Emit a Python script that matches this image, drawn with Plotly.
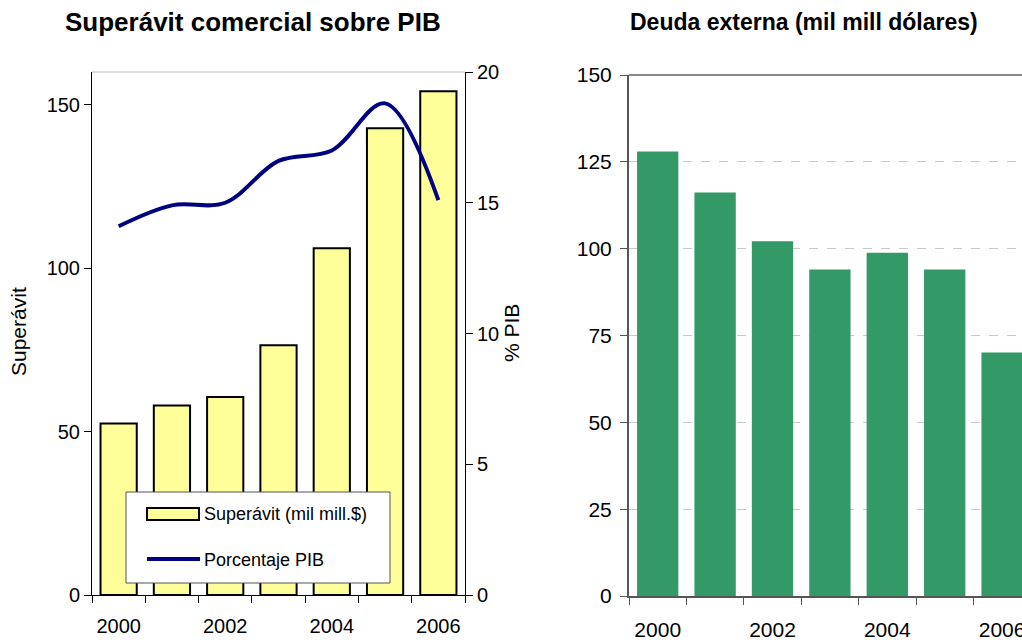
import plotly.graph_objects as go

years = [2000, 2001, 2002, 2003, 2004, 2005, 2006]
superavit = [52.5, 58.0, 60.6, 76.4, 106.1, 142.8, 154.1]
pct_pib = [14.1, 14.9, 15.0, 16.6, 17.0, 18.8, 15.1]
deuda = [128.0, 116.2, 102.1, 94.0, 98.8, 94.0, 70.1]
year_ticks = [2000, 2002, 2004, 2006]
year_labels = ["2000", "2002", "2004", "2006"]
boundaries = [y - 0.5 for y in years] + [years[-1] + 0.5]

W, H = 1022, 644
FONT = "Arial, Liberation Sans, sans-serif"


def px(x):
    return x / W


def py(y):
    return 1 - y / H


fig = go.Figure()

fig.add_trace(go.Bar(
    x=years, y=superavit, width=0.68,
    marker=dict(color="#FFFF99", line=dict(color="black", width=2)),
    xaxis="x", yaxis="y", showlegend=False,
))

fig.add_trace(go.Scatter(
    x=years, y=pct_pib, mode="lines",
    line=dict(color="#000080", width=4, shape="spline", smoothing=1),
    xaxis="x", yaxis="y2", showlegend=False,
))

fig.add_trace(go.Bar(
    x=years, y=deuda, width=0.72,
    marker=dict(color="#339966", line=dict(width=0)),
    xaxis="x2", yaxis="y3", showlegend=False,
))

fig.update_layout(
    width=W, height=H,
    margin=dict(l=0, r=0, t=0, b=0, pad=0),
    paper_bgcolor="white", plot_bgcolor="white",
    font=dict(family=FONT, color="black", size=20),
    xaxis=dict(
        domain=[px(92), px(465)], anchor="y", automargin=False,
        range=[1999.5, 2006.5],
        tickvals=year_ticks, ticktext=year_labels,
        ticks="", ticklabelstandoff=13, ticklabeloverflow="allow",
        tickfont=dict(size=20),
        minor=dict(tickvals=boundaries, ticks="outside", ticklen=7,
                   tickcolor="black", showgrid=False),
        showline=True, linecolor="black", linewidth=1,
        showgrid=False, zeroline=False,
    ),
    yaxis=dict(
        domain=[py(595), py(72)], anchor="x", automargin=False,
        range=[0, 160], tickvals=[0, 50, 100, 150],
        ticks="outside", ticklen=7, tickcolor="black",
        tickfont=dict(size=20),
        showline=True, linecolor="black", linewidth=1,
        showgrid=False, zeroline=False,
    ),
    yaxis2=dict(
        overlaying="y", side="right", anchor="x", automargin=False,
        range=[0, 20], tickvals=[0, 5, 10, 15, 20],
        ticks="outside", ticklen=7, tickcolor="black",
        tickfont=dict(size=20),
        showline=True, linecolor="black", linewidth=1,
        showgrid=False, zeroline=False,
    ),
    xaxis2=dict(
        domain=[px(629), 1.0], anchor="y3", automargin=False,
        range=[1999.5, 1999.5 + (W - 629) / 57.4],
        tickvals=year_ticks, ticktext=year_labels,
        ticks="", ticklabelstandoff=14, ticklabeloverflow="allow",
        tickfont=dict(size=21),
        minor=dict(tickvals=boundaries, ticks="outside", ticklen=7,
                   tickcolor="#555555", showgrid=False),
        showline=True, linecolor="#555555", linewidth=2,
        showgrid=False, zeroline=False,
    ),
    yaxis3=dict(
        domain=[py(596), py(75)], anchor="x2", automargin=False,
        range=[0, 150], tickvals=[0, 25, 50, 75, 100, 125, 150],
        ticks="outside", ticklen=7, tickcolor="#555555",
        tickfont=dict(size=21), ticklabelstandoff=4,
        showline=True, linecolor="#555555", linewidth=2,
        showgrid=True, gridcolor="#C8C8C8", griddash="dash", gridwidth=1,
        zeroline=False,
    ),
)

shapes = [
    # top frame of the left chart
    dict(type="line", xref="paper", yref="paper",
         x0=px(92), x1=px(465), y0=py(72), y1=py(72),
         line=dict(color="#BBBBBB", width=1)),
    # top frame of the right chart
    dict(type="line", xref="paper", yref="paper",
         x0=px(629), x1=1.0, y0=py(75), y1=py(75),
         line=dict(color="#888888", width=2)),
    # legend box
    dict(type="rect", xref="paper", yref="paper", layer="above",
         x0=px(126), x1=px(390), y0=py(583), y1=py(492),
         fillcolor="white", line=dict(color="#555555", width=1)),
    dict(type="rect", xref="paper", yref="paper", layer="above",
         x0=px(147), x1=px(199), y0=py(520), y1=py(508),
         fillcolor="#FFFF99", line=dict(color="black", width=2)),
    dict(type="line", xref="paper", yref="paper", layer="above",
         x0=px(147), x1=px(200), y0=py(559), y1=py(559),
         line=dict(color="#000080", width=4)),
]
fig.update_layout(shapes=shapes)

annotations = [
    dict(text="<b>Superávit comercial sobre PIB</b>", x=px(253), y=py(22),
         font=dict(size=26)),
    dict(text="<b>Deuda externa (mil mill dólares)</b>", x=px(804), y=py(22),
         font=dict(size=23)),
    dict(text="Superávit", x=px(18), y=py(332), textangle=-90,
         font=dict(size=21)),
    dict(text="% PIB", x=px(512), y=py(333), textangle=-90,
         font=dict(size=21)),
    dict(text="Superávit (mil mill.$)", x=px(202), y=py(514),
         xanchor="left", font=dict(size=18)),
    dict(text="Porcentaje PIB", x=px(202), y=py(560),
         xanchor="left", font=dict(size=18)),
]
for a in annotations:
    a.setdefault("xanchor", "center")
    a.update(xref="paper", yref="paper", yanchor="middle", showarrow=False)
fig.update_layout(annotations=annotations)

# drop the default page margin so the figure fills the window exactly
fig.write_html(
    "out.html",
    config={"displayModeBar": False},
    post_script="document.body.style.margin='0';"
                "document.body.style.overflow='hidden';",
)
